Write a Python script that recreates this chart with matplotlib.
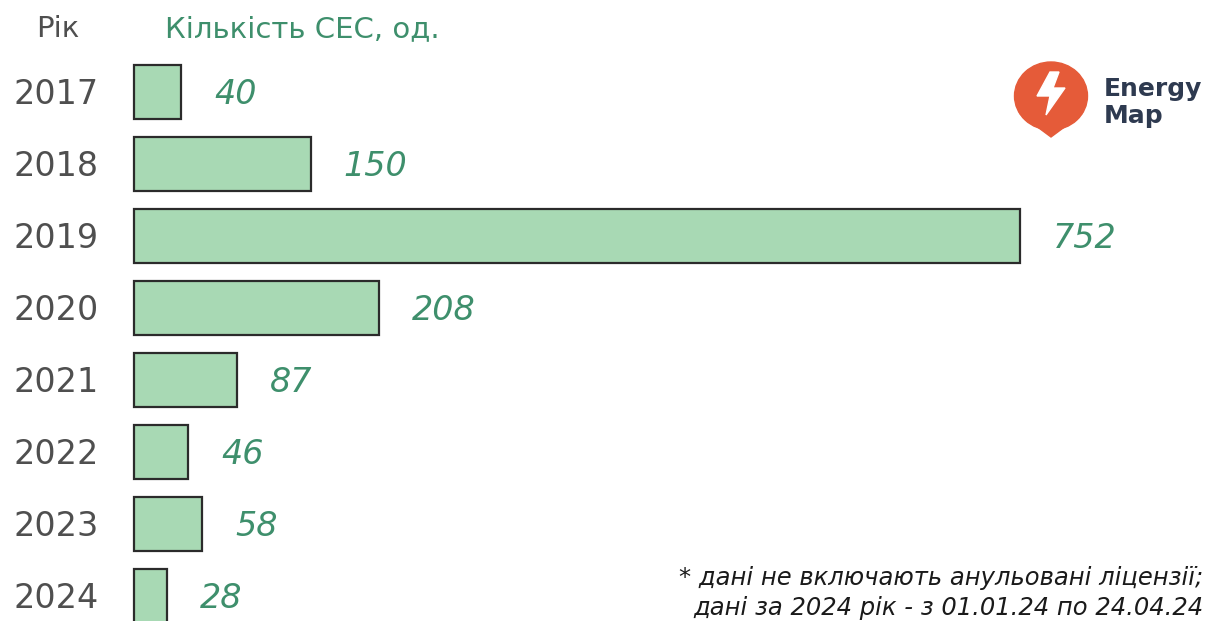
import matplotlib
matplotlib.use("Agg")
import matplotlib.pyplot as plt
from matplotlib.patches import Ellipse, Polygon
import matplotlib.transforms as mtrans

years = ["2017", "2018", "2019", "2020", "2021", "2022", "2023", "2024"]
counts = [40, 150, 752, 208, 87, 46, 58, 28]

header_year = "Рік"
header_value = "Кількість СЕС, од."
footnote_lines = ["* дані не включають анульовані ліцензії;",
                  "дані за 2024 рік - з 01.01.24 по 24.04.24"]

W, H = 1215, 621
fig = plt.figure(figsize=(W / 100, H / 100), dpi=100)
ax = fig.add_axes([0, 0, 1, 1])

scale = (1020 - 134) / 752.0  # px per unit
ax.set_xlim(-134 / scale, (W - 134) / scale)
ax.set_ylim((H - 92) / 72.0, -92 / 72.0)
ax.axis("off")

bar_color = "#a8d9b4"
green = "#3e8f6c"
gray = "#4f4f4f"
font = "DejaVu Sans"

ypos = list(range(len(years)))
ax.barh(ypos, counts, height=0.75, color=bar_color, edgecolor="#2b2b2b", linewidth=1.6)

# shift text down so the digit centres line up with the bar centres
down = mtrans.offset_copy(ax.transData, fig=fig, x=0, y=-12, units="dots")
off = 33 / scale
for y, v, lab in zip(ypos, counts, years):
    ax.text(v + off, y, f"{v}", ha="left", va="baseline", fontsize=24,
            fontstyle="italic", color=green, family=font, transform=down)
    ax.text(-78 / scale, y, lab, ha="center", va="baseline", fontsize=24,
            color=gray, family=font, transform=down)

# headers
fig.text(58 / W, 1 - 37 / H, header_year, ha="center", va="baseline", fontsize=21,
         color=gray, family=font)
fig.text(165 / W, 1 - 37 / H, header_value, ha="left", va="baseline", fontsize=21,
         color=green, family=font)

# footnote
fig.text(1203 / W, 1 - 585 / H, footnote_lines[0], ha="right", va="baseline",
         fontsize=17.5, fontstyle="italic", color="#1a1a1a", family=font)
fig.text(1203 / W, 1 - 615 / H, footnote_lines[1], ha="right", va="baseline",
         fontsize=17.5, fontstyle="italic", color="#1a1a1a", family=font)

# logo
lax = fig.add_axes([0, 0, 1, 1], zorder=5)
lax.set_xlim(0, W)
lax.set_ylim(H, 0)
lax.axis("off")
orange = "#e55b39"
cx, cy = 1051, 96
lax.add_patch(Ellipse((cx, cy), 73, 68, color=orange))
lax.add_patch(Polygon([[cx - 31, cy + 18], [cx + 31, cy + 18], [cx, cy + 41]], color=orange))
bolt = [[cx - 1, cy - 24], [cx - 14, cy + 0], [cx - 1, cy + 0], [cx - 5, cy + 19],
        [cx + 14, cy - 8], [cx + 2, cy - 8], [cx + 8, cy - 24]]
lax.add_patch(Polygon(bolt, color="white"))
lax.text(1104, 96, "Energy", ha="left", va="baseline", fontsize=18, fontweight="bold",
         color="#2e3a50", family=font)
lax.text(1104, 123, "Map", ha="left", va="baseline", fontsize=18, fontweight="bold",
         color="#2e3a50", family=font)

fig.savefig("out.png", dpi=100, facecolor="white")
